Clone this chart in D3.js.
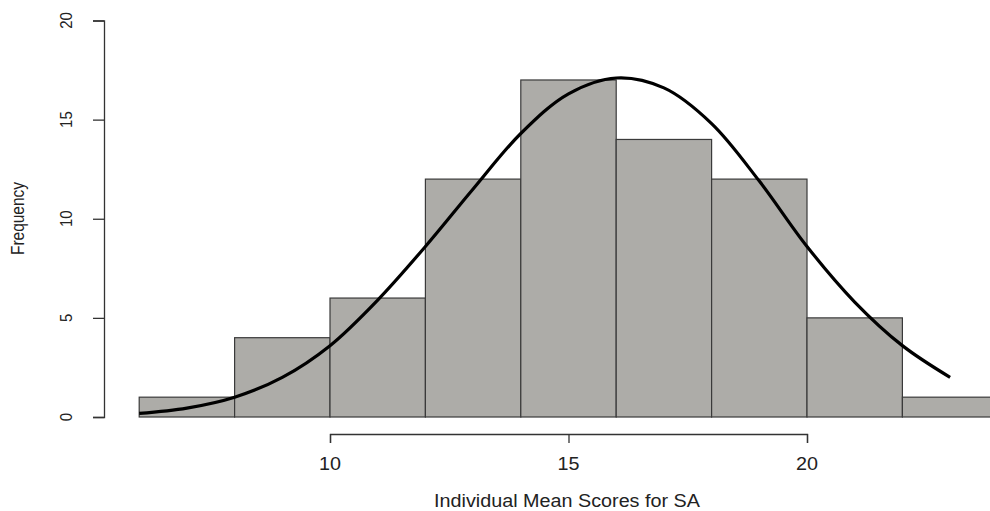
<!DOCTYPE html>
<html>
<head>
<meta charset="utf-8">
<script src="https://cdn.jsdelivr.net/npm/d3@7"></script>
<style>
  body { margin: 0; background: #fff; }
  text { font-family: "Liberation Sans", Arial, sans-serif; fill: #222; }
</style>
</head>
<body>
<div id="graph1"></div>
<script>
// histogram of individual mean scores with a fitted normal curve
const binStarts = [6, 8, 10, 12, 14, 16, 18, 20, 22];
const binWidth = 2;
const counts = [1, 4, 6, 12, 17, 14, 12, 5, 1];
const curveX = [6, 7, 8, 9, 10, 11, 12, 13, 14, 15, 16, 17, 18, 19, 20, 21, 22, 23];
const curveY = [0.18, 0.45, 1.0, 2.0, 3.6, 5.9, 8.6, 11.5, 14.3, 16.3, 17.1, 16.6, 14.8, 11.9, 8.6, 5.8, 3.6, 2.0];
const xTicks = [10, 15, 20];
const yTicks = [0, 5, 10, 15, 20];

const width = 990, height = 511;

let svg = d3.select("#graph1")
    .append("svg")
    .attr("width", width)
    .attr("height", height);

let x = d3.scaleLinear().domain([10, 20]).range([330, 807]);
let y = d3.scaleLinear().domain([0, 20]).range([417, 20.5]);

// bars
svg.append("g")
    .selectAll("rect")
    .data(binStarts)
    .enter()
    .append("rect")
    .attr("x", d => x(d))
    .attr("y", (d, i) => y(counts[i]))
    .attr("width", d => x(d + binWidth) - x(d))
    .attr("height", (d, i) => y(0) - y(counts[i]))
    .attr("fill", "#adaca8")
    .attr("stroke", "#3a3a3a")
    .attr("stroke-width", 1.2);

// normal curve
let line = d3.line()
    .x(d => x(d[0]))
    .y(d => y(d[1]))
    .curve(d3.curveCatmullRom);
svg.append("path")
    .datum(curveX.map((v, i) => [v, curveY[i]]))
    .attr("d", line)
    .attr("fill", "none")
    .attr("stroke", "#000")
    .attr("stroke-width", 3.2);

// y axis
svg.append("g")
    .attr("transform", "translate(104,0)")
    .call(d3.axisLeft(y).tickValues(yTicks).tickSize(11).tickPadding(0).tickFormat(""))
    .call(g => g.selectAll("line, path").attr("stroke", "#333").attr("stroke-width", 1.3));

svg.append("g")
    .selectAll("text")
    .data(yTicks)
    .enter()
    .append("text")
    .attr("transform", d => `translate(71.5, ${y(d)}) scale(1.13,1) rotate(-90)`)
    .style("text-anchor", "middle")
    .style("font-size", "15px")
    .text(d => d);

// x axis
svg.append("g")
    .attr("transform", "translate(0,434)")
    .call(d3.axisBottom(x).tickValues(xTicks).tickSize(9).tickFormat(""))
    .call(g => g.selectAll("line, path").attr("stroke", "#333").attr("stroke-width", 1.3));

svg.append("g")
    .selectAll("text")
    .data(xTicks)
    .enter()
    .append("text")
    .attr("transform", d => `translate(${x(d)}, 469.5) scale(1.13,1)`)
    .style("text-anchor", "middle")
    .style("font-size", "17.5px")
    .text(d => d);

svg.append("text")
    .attr("transform", "translate(567, 506.5) scale(1.13,1)")
    .style("text-anchor", "middle")
    .style("font-size", "17.5px")
    .text("Individual Mean Scores for SA");

svg.append("text")
    .attr("transform", "translate(23.5, 218.5) scale(1.13,1) rotate(-90)")
    .style("text-anchor", "middle")
    .style("font-size", "15.5px")
    .text("Frequency");
</script>
</body>
</html>
